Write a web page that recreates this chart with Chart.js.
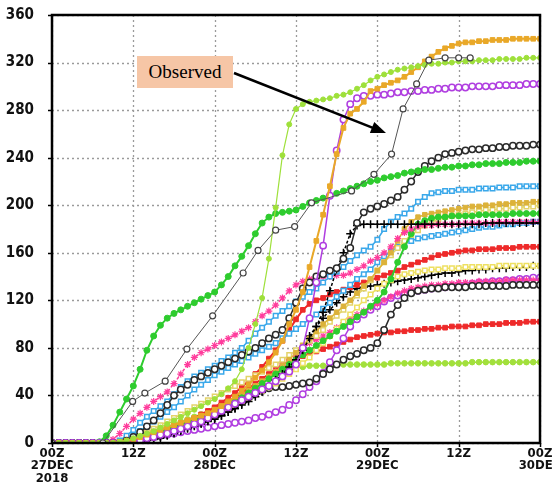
<!DOCTYPE html>
<html>
<head>
<meta charset="utf-8">
<script src="https://cdn.jsdelivr.net/npm/chart.js@4.4.1/dist/chart.umd.min.js"></script>
<style>
  html, body { margin: 0; padding: 0; background: #fff; }
  #wrap { position: relative; width: 552px; height: 483px; overflow: hidden; }
  #obsLabel {
    position: absolute; left: 137px; top: 56px; width: 96px; height: 32px;
    background: #f6c6a6; color: #000;
    font-family: 'Liberation Serif', 'DejaVu Serif', serif; font-size: 19px;
    line-height: 32px; text-align: center;
  }
</style>
</head>
<body>
<div id="wrap">
  <canvas id="chart" width="552" height="483"></canvas>
  <div id="obsLabel">Observed</div>
</div>
<script>
// hours since 00Z 27DEC 2018, one value per hour
const hours = Array.from({ length: 73 }, (_, i) => i);

const tickLabels = [["00Z", "27DEC", "2018"], ["12Z"], ["00Z", "28DEC"], ["12Z"], ["00Z", "29DEC"], ["12Z"], ["00Z", "30DEC"]];

// observed (irregular times)
const obsHours = [0, 7.5, 11.9, 13.7, 16.7, 19.9, 23.7, 28.2, 30.4, 33.0, 35.8, 38.3, 44.2, 47.5, 50.1, 51.8, 53.8, 55.6, 58.0, 60.0, 61.7];
const obsValues = [0, 0, 35, 42, 52, 79, 107, 143, 162, 179, 182, 202, 212, 226, 243, 281, 302, 322, 324, 324, 324];

// members
const greenEarly = [0,0,0,0,0,0,0,1,6,15, 26,37,48,62,78,90,99,105,109,112, 115,118,121,124,127,133,140,149,157,166, 176,185,190,193,194,195,196,199,202,204, 206,208,210,212,214,216,218,220,221,223, 224,225,227,228,229,230,230,231,232,232, 233,233,234,234,235,235,235,236,236,236, 237,237,237];
const limeThin = [0,0,0,0,0,0,0,0,0,0, 1,2,4,6,8,10,13,16,19,22, 25,28,31,34,37,41,46,52,62,80, 100,122,155,198,242,268,281,285,287,288, 289,290,292,293,295,298,301,305,308,310, 312,314,315,316,317,318,319,319,320,320, 321,321,321,322,322,322,323,323,323,323, 324,324,324];
const orange = [0,0,0,0,0,0,0,0,0,0, 1,2,3,5,7,9,11,13,15,17, 19,21,23,25,28,31,35,39,44,49, 55,61,68,76,86,100,112,127,148,170, 192,216,243,265,277,281,287,296,298,301, 303,305,308,312,316,321,325,329,332,334, 336,337,337,338,338,339,339,339,340,340, 340,340,340];
const purpleHigh = [0,0,0,0,0,0,0,0,0,0, 0,0,1,2,4,5,7,8,10,12, 14,16,18,21,24,27,30,33,36,39, 42,45,48,52,56,60,66,80,105,135, 166,208,246,272,285,290,292,292,293,293, 294,295,295,296,296,297,297,298,298,299, 299,299,300,300,300,300,301,301,301,301, 302,302,302];
const purpleLow = [0,0,0,0,0,0,0,0,0,0, 0,1,2,3,4,5,6,7,8,9, 10,11,12,13,14,15,16,17,18,19, 21,22,24,26,28,32,36,41,47,52, 59,68,78,88,98,104,108,112,115,119, 122,124,125,127,128,129,130,131,131,132, 133,133,134,135,135,136,136,137,137,138, 138,139,139];
const blackHigh = [0,0,0,0,0,0,0,0,0,0, 0,2,5,9,14,19,25,32,40,45, 49,53,56,59,62,65,68,71,74,77, 80,84,88,91,95,105,118,130,135,140, 142,145,147,155,164,185,194,197,199,201, 204,207,213,220,228,233,237,240,243,244, 245,246,247,247,248,248,249,249,250,250, 250,251,251];
const blackLow = [0,0,0,0,0,0,0,0,0,0, 0,0,1,2,4,6,8,10,12,14, 16,18,20,22,24,27,30,33,36,39, 42,44,46,47,47,48,49,50,51,54, 58,62,66,70,73,75,78,80,84,95, 108,116,122,126,128,129,130,130,131,131, 131,131,132,132,132,132,132,132,133,133, 133,133,133];
const blueHigh = [0,0,0,0,0,0,0,0,0,0, 2,6,11,17,22,27,31,35,41,47, 52,56,59,62,65,69,72,76,80,86, 92,97,102,107,111,115,119,123,127,130, 135,140,144,148,153,158,162,165,171,180, 186,190,193,197,203,207,210,211,212,212, 213,213,213,214,214,214,215,215,215,216, 216,216,216];
const blueLow = [0,0,0,0,0,0,0,0,0,0, 0,3,6,10,14,18,22,26,30,35, 40,45,49,53,57,60,63,66,69,72, 75,78,81,84,88,92,96,100,104,108, 113,118,123,128,133,138,142,146,152,157, 161,165,168,170,172,173,174,175,176,177, 178,179,180,181,182,182,183,184,184,185, 185,186,186];
const pinkHigh = [0,0,0,0,0,0,0,0,0,3, 8,14,20,25,30,35,39,43,50,58, 66,72,76,79,82,85,88,91,94,97, 102,107,111,116,122,128,133,136,138,139, 140,140,141,141,143,146,149,153,156,160, 165,172,177,180,182,183,183,184,184,184, 184,185,185,185,185,185,186,186,186,186, 186,186,186];
const pinkLow = [0,0,0,0,0,0,0,0,0,0, 0,0,2,4,6,8,10,12,14,16, 18,20,22,24,26,29,32,35,38,42, 46,50,55,60,65,70,75,80,84,87, 90,93,97,101,105,108,111,114,117,120, 123,126,128,130,131,132,133,133,134,134, 135,135,135,136,136,136,136,137,137,137, 137,137,137];
const redHigh = [0,0,0,0,0,0,0,0,0,0, 0,0,1,2,4,6,8,10,12,15, 18,21,24,27,30,34,38,42,47,52, 58,64,71,78,86,95,104,112,117,120, 122,125,127,129,131,133,135,137,139,141, 143,145,148,150,152,154,156,158,159,160, 161,162,162,163,163,163,164,164,164,165, 165,165,165];
const redLow = [0,0,0,0,0,0,0,0,0,0, 0,0,1,2,3,5,7,9,11,14, 17,20,23,26,29,32,35,38,42,46, 50,54,58,62,66,69,71,73,75,77, 79,81,83,85,87,89,90,91,92,93, 93,94,94,95,95,96,96,97,97,98, 98,98,99,99,100,100,100,101,101,101, 102,102,102];
const limeFlat = [0,0,0,0,0,0,0,0,0,0, 0,2,4,6,8,10,12,14,16,18, 20,22,24,26,28,31,34,37,40,43, 46,50,54,58,61,63,64,64,65,65, 65,65,66,66,66,66,66,66,66,66, 67,67,67,67,67,67,67,67,67,67, 67,67,68,68,68,68,68,68,68,68, 68,68,68];
const greenLate = [0,0,0,0,0,0,0,0,0,0, 0,0,1,3,5,7,9,11,13,15, 17,19,21,23,26,29,32,35,38,42, 46,50,54,58,62,66,70,74,78,82, 86,90,94,98,102,106,110,115,120,127, 138,152,165,176,184,187,189,190,190,191, 191,191,191,192,192,192,192,192,193,193, 193,193,193];
const gold = [0,0,0,0,0,0,0,0,0,0, 0,1,3,5,7,9,11,13,15,17, 19,21,23,25,28,31,34,37,40,44, 48,52,56,60,65,70,76,82,88,94, 100,105,110,115,120,126,132,138,145,152, 160,170,180,186,190,192,193,194,195,196, 197,198,199,199,200,200,201,201,202,202, 202,203,203];
const khaki = [0,0,0,0,0,0,0,0,0,0, 0,2,4,6,9,12,15,18,21,24, 27,30,33,36,39,42,45,48,51,54, 57,60,63,66,70,74,78,82,86,90, 95,102,107,112,118,124,130,137,145,152, 158,164,170,175,179,183,186,188,190,191, 192,193,194,195,196,196,197,197,198,198, 199,199,200];
const yellow = [0,0,0,0,0,0,0,0,0,0, 0,0,1,3,5,7,9,11,13,15, 17,19,21,23,25,27,29,32,35,38, 41,44,47,50,54,58,62,67,72,78, 84,90,96,102,108,114,120,125,130,134, 137,140,142,143,144,145,146,146,147,147, 147,148,148,148,148,148,149,149,149,149, 149,149,149];
const plusHigh = [0,0,0,0,0,0,0,0,0,0, 0,0,1,2,3,4,5,7,9,11, 13,15,17,19,21,23,26,29,32,35, 39,43,48,53,58,64,70,78,88,98, 110,128,146,160,176,183,184,184,184,184, 184,184,184,184,184,184,184,184,184,184, 184,184,184,184,185,185,185,185,185,185, 185,185,185];
const plusLow = [0,0,0,0,0,0,0,0,0,0, 0,0,0,1,2,3,4,6,8,10, 12,14,16,18,20,23,26,29,33,37, 41,45,49,53,57,62,70,80,90,98, 105,112,118,123,127,130,131,132,133,134, 135,136,137,138,139,140,141,142,143,143, 144,145,145,146,146,147,147,147,148,148, 148,149,149];

const WHITE = "#ffffff";

function member(values, color, opts) {
    return Object.assign({
        data: values,
        borderColor: color,
        borderWidth: 1.5,
        pointRadius: 3,
        pointStyle: "circle",
        pointBackgroundColor: color,
        pointBorderColor: color,
        pointBorderWidth: 1,
        tension: 0
    }, opts || {});
}

const openMark = { pointBackgroundColor: WHITE, pointBorderWidth: 1.5, pointRadius: 3.2 };

const datasets = [
    {
        label: "Observed",
        data: obsHours.map((h, i) => ({ x: h, y: obsValues[i] })),
        borderColor: "#555555",
        borderWidth: 1,
        pointRadius: 3,
        pointBackgroundColor: WHITE,
        pointBorderColor: "#444444",
        pointBorderWidth: 1.2,
        tension: 0
    },
    member(limeThin, "#9ee03a", { borderWidth: 1.2, pointRadius: 2.5 }),
    member(orange, "#e9a828", { pointStyle: "rect", pointRadius: 3.3, borderWidth: 2 }),
    member(purpleHigh, "#b03ee0", openMark),
    member(greenEarly, "#2ecc2e", { pointRadius: 3, borderWidth: 2 }),
    member(blackHigh, "#2a2a2a", openMark),
    member(plusHigh, "#000000", { pointStyle: "cross", pointRadius: 4, pointBorderWidth: 1.5, borderDash: [3, 2] }),
    member(blueHigh, "#3aa8ea", Object.assign({ pointStyle: "rect" }, openMark)),
    member(pinkHigh, "#ff3c9c", { pointStyle: "star", pointRadius: 3.5, pointBorderWidth: 1.2, borderDash: [3, 2] }),
    member(greenLate, "#2ecc2e", { pointRadius: 3, borderWidth: 2 }),
    member(gold, "#dcb23a", { pointStyle: "rect", pointRadius: 3.2 }),
    member(khaki, "#e3d36a", Object.assign({ pointStyle: "rect" }, openMark)),
    member(blueLow, "#3aa8ea", Object.assign({ pointStyle: "rect" }, openMark)),
    member(redHigh, "#ee2a2a", { pointStyle: "rect", pointRadius: 3.3, borderWidth: 2 }),
    member(yellow, "#eee062", Object.assign({ pointStyle: "rect" }, openMark)),
    member(plusLow, "#000000", { pointStyle: "cross", pointRadius: 4, pointBorderWidth: 1.5, borderDash: [3, 2] }),
    member(blackLow, "#2a2a2a", openMark),
    member(pinkLow, "#ff3c9c", { pointStyle: "star", pointRadius: 3.5, pointBorderWidth: 1.2, borderDash: [3, 2] }),
    member(purpleLow, "#b03ee0", openMark),
    member(redLow, "#ee2a2a", { pointStyle: "rect", pointRadius: 3.3, borderWidth: 2 }),
    member(limeFlat, "#a2e03c", { pointRadius: 2.8, borderWidth: 1.5 })
];

// dotted grid at the scale ticks, drawn under the lines
const gridPlugin = {
    id: "dottedGrid",
    beforeDatasetsDraw(chart) {
        const { ctx, chartArea: a, scales } = chart;
        ctx.save();
        ctx.strokeStyle = "#9a9a9a";
        ctx.lineWidth = 1.3;
        ctx.setLineDash([2, 3]);
        ctx.beginPath();
        scales.x.ticks.forEach(t => {
            const px = Math.round(scales.x.getPixelForValue(t.value)) + 0.5;
            ctx.moveTo(px, a.top);
            ctx.lineTo(px, a.bottom);
        });
        scales.y.ticks.forEach(t => {
            const py = Math.round(scales.y.getPixelForValue(t.value)) + 0.5;
            ctx.moveTo(a.left, py);
            ctx.lineTo(a.right, py);
        });
        ctx.stroke();
        ctx.setLineDash([]);
        ctx.strokeStyle = "#000";
        ctx.lineWidth = 1.5;
        ctx.beginPath();
        scales.y.ticks.forEach(t => {
            const py = Math.round(scales.y.getPixelForValue(t.value)) + 0.5;
            ctx.moveTo(a.left - 4, py);
            ctx.lineTo(a.left, py);
        });
        scales.x.ticks.forEach(t => {
            const px = Math.round(scales.x.getPixelForValue(t.value)) + 0.5;
            ctx.moveTo(px, a.bottom);
            ctx.lineTo(px, a.bottom + 4);
        });
        ctx.stroke();
        ctx.restore();
    }
};

// frame round the plot + arrow from the "Observed" box
const framePlugin = {
    id: "frame",
    afterDraw(chart) {
        const { ctx, chartArea: a } = chart;
        ctx.save();
        ctx.strokeStyle = "#000";
        ctx.lineWidth = 2.5;
        ctx.strokeRect(a.left, a.top, a.right - a.left, a.bottom - a.top);

        const x1 = 234, y1 = 73, x2 = 386, y2 = 133;
        const ang = Math.atan2(y2 - y1, x2 - x1);
        ctx.lineWidth = 2.6;
        ctx.beginPath();
        ctx.moveTo(x1, y1);
        ctx.lineTo(x2 - 12 * Math.cos(ang), y2 - 12 * Math.sin(ang));
        ctx.stroke();
        ctx.fillStyle = "#000";
        ctx.beginPath();
        ctx.moveTo(x2, y2);
        ctx.lineTo(x2 - 15 * Math.cos(ang) + 6 * Math.sin(ang), y2 - 15 * Math.sin(ang) - 6 * Math.cos(ang));
        ctx.lineTo(x2 - 15 * Math.cos(ang) - 6 * Math.sin(ang), y2 - 15 * Math.sin(ang) + 6 * Math.cos(ang));
        ctx.closePath();
        ctx.fill();
        ctx.restore();
    }
};

const tickFont = { family: "'Liberation Sans Narrow', 'DejaVu Sans Condensed', 'Roboto Condensed', sans-serif", weight: "bold" };

new Chart(document.getElementById("chart"), {
    type: "line",
    data: { labels: hours, datasets: datasets },
    options: {
        responsive: false,
        animation: false,
        devicePixelRatio: 1,
        layout: { padding: { top: 15, right: 12, left: 0, bottom: 0 } },
        plugins: { legend: { display: false }, tooltip: { enabled: false } },
        scales: {
            x: {
                type: "linear",
                min: 0,
                max: 72,
                ticks: {
                    stepSize: 12,
                    autoSkip: false,
                    maxRotation: 0,
                    padding: 4,
                    color: "#111",
                    font: Object.assign({ size: 13, lineHeight: 0.98 }, tickFont),
                    callback: (v) => tickLabels[v / 12] || ""
                },
                grid: { display: false, drawTicks: false },
                border: { display: false },
                afterFit: (axis) => { axis.height = 40; axis.paddingLeft = 0; axis.paddingRight = 0; }
            },
            y: {
                min: 0,
                max: 360,
                ticks: {
                    stepSize: 40,
                    padding: 18,
                    color: "#111",
                    font: Object.assign({ size: 15 }, tickFont)
                },
                grid: { display: false, drawTicks: false },
                border: { display: false },
                afterFit: (axis) => { axis.width = 52; axis.paddingTop = 0; axis.paddingBottom = 0; }
            }
        }
    },
    plugins: [gridPlugin, framePlugin]
});
</script>
</body>
</html>
